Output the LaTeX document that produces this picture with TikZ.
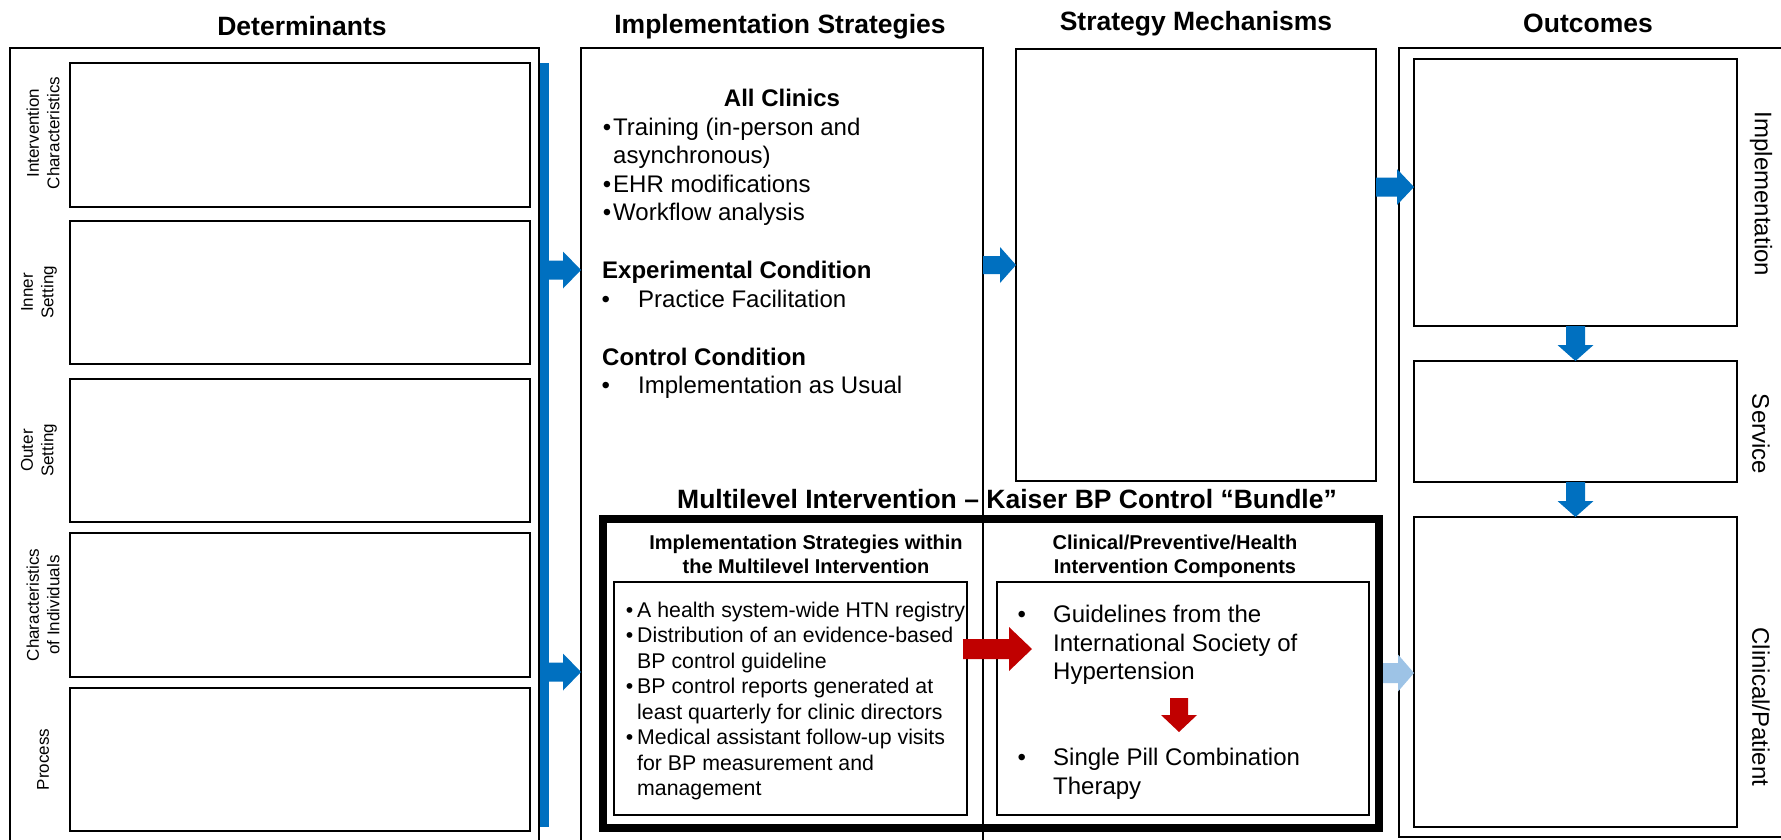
\documentclass[tikz,border=0pt]{standalone}
\usepackage{fontspec}
\setmainfont{Liberation Sans}
\usetikzlibrary{calc}
\definecolor{dblue}{HTML}{0070C0}
\definecolor{lblue}{HTML}{9DC3E6}
\definecolor{dred}{HTML}{C00000}

% block arrow pointing right: colour, tail, tip, half shaft, half head, head length
\newcommand\harrow[6]{%
  \fill[#1] ($#2+(0,-#4)$) -- ($#3+(-#6,-#4)$) -- ($#3+(-#6,-#5)$) -- #3
    -- ($#3+(-#6,#5)$) -- ($#3+(-#6,#4)$) -- ($#2+(0,#4)$) -- cycle;}
% block arrow pointing down: colour, tail, tip, half shaft, half head, head length
\newcommand\varrow[6]{%
  \fill[#1] ($#2+(-#4,0)$) -- ($#3+(-#4,-#6)$) -- ($#3+(-#5,-#6)$) -- #3
    -- ($#3+(#5,-#6)$) -- ($#3+(#4,-#6)$) -- ($#2+(#4,0)$) -- cycle;}

\begin{document}
\begin{tikzpicture}[x=1pt,y=-1pt,
  frame/.style={draw, line width=#1, inner sep=0pt, outer sep=0pt},
  frame/.default=2pt,
  wh/.style 2 args={minimum width=#1pt, minimum height=#2pt},
  title/.style={anchor=base, inner sep=0pt, font=\bfseries\fontsize{26.5}{30}\selectfont},
  sidelab/.style={inner sep=0pt, align=center, font=\fontsize{17}{20.5}\selectfont},
  outlab/.style={inner sep=0pt, rotate=-90, font=\fontsize{24}{28}\selectfont},
  body/.style={anchor=base west, inner sep=0pt, font=\fontsize{24}{28}\selectfont},
  bodyb/.style={body, font=\bfseries\fontsize{24}{28}\selectfont},
  small/.style={anchor=base west, inner sep=0pt, font=\fontsize{21.3}{25}\selectfont},
  hdr/.style={anchor=base, inner sep=0pt, font=\bfseries\fontsize{20}{24}\selectfont}]

\useasboundingbox (0,0) rectangle (1781,839);
\fill[white] (0,0) rectangle (1781,839);

% ---------- column titles ----------
\node[title] (tdet) at (302,35) {Determinants};
\node[title] (timp) at (780,33) {Implementation Strategies};
\node[title] (tmech) at (1196,30) {Strategy Mechanisms};
\node[title] (tout) at (1588,32) {Outcomes};

% ---------- determinants ----------
\node[frame, wh={529}{800}] (det) at (274.5,448) {};
\node[frame=2.7pt, wh={460}{144}] (d1) at (300,135) {};
\node[frame=2.7pt, wh={460}{143}] (d2) at (300,292.5) {};
\node[frame=2.7pt, wh={460}{143}] (d3) at (300,450.5) {};
\node[frame=2.7pt, wh={460}{144}] (d4) at (300,605) {};
\node[frame=2.7pt, wh={460}{143}] (d5) at (300,759.5) {};
\node[sidelab, rotate=90] (l1) at (43,133) {Intervention\\Characteristics};
\node[sidelab, rotate=90] (l2) at (39,292.5) {Inner\\Setting};
\node[sidelab, rotate=90] (l3) at (39,450.5) {Outer\\Setting};
\node[sidelab, rotate=90] (l4) at (43,605) {Characteristics\\of Individuals};
\node[sidelab, rotate=90] (l5) at (43,759.5) {Process};
\node[fill=dblue, inner sep=0pt, outer sep=0pt, wh={9}{764}] (bar) at (544.5,445) {};

% ---------- implementation strategies ----------
\node[frame, wh={402}{800}] (impl) at (782,448) {};
\node[bodyb, anchor=base] (allc) at (782,106) {All Clinics};
\node[body] (s1) at (613,135) {\llap{•\hspace{2pt}}Training (in-person and};
\node[body] (s2) at (613,163) {asynchronous)};
\node[body] (s3) at (613,192) {\llap{•\hspace{2pt}}EHR modifications};
\node[body] (s4) at (613,220) {\llap{•\hspace{2pt}}Workflow analysis};
\node[bodyb] (exph) at (602,278) {Experimental Condition};
\node[body] (exp1) at (638,307) {\llap{•\hspace{28.3pt}}Practice Facilitation};
\node[bodyb] (ctlh) at (602,365) {Control Condition};
\node[body] (ctl1) at (638,393) {\llap{•\hspace{28.3pt}}Implementation as Usual};

% ---------- strategy mechanisms ----------
\node[frame=2.3pt, wh={360}{432}] (mech) at (1196,265) {};

% ---------- outcomes ----------
\node[frame=1.8pt, wh={396}{789}] (outc) at (1597,442.5) {};
\node[frame=2.4pt, wh={323}{267}] (o1) at (1575.5,192.5) {};
\node[frame=2.4pt, wh={323}{121}] (o2) at (1575.5,421.5) {};
\node[frame=2.4pt, wh={323}{310}] (o3) at (1575.5,672) {};
\node[outlab] (ol1) at (1761,194) {Implementation};
\node[outlab] (ol2) at (1761,434) {Service};
\node[outlab] (ol3) at (1761,707) {Clinical/Patient};

% ---------- multilevel intervention bundle ----------
\node[title] (tbund) at (1007,508) {Multilevel Intervention – Kaiser BP Control “Bundle”};
\node[frame=8pt, wh={776}{309}] (bundle) at (991,673.5) {};
\node[hdr] (bh1) at (806,549) {Implementation Strategies within};
\node[hdr] (bh2) at (806,573) {the Multilevel Intervention};
\node[hdr] (ch1) at (1175,549) {Clinical/Preventive/Health};
\node[hdr] (ch2) at (1175,573) {Intervention Components};
\node[frame=2.4pt, wh={353}{233}] (ib1) at (790.5,698.5) {};
\node[frame=2.4pt, wh={372}{233}] (ib2) at (1183,698.5) {};

\node[small] (m1) at (637,617) {\llap{•\hspace{4pt}}A health system-wide HTN registry};
\node[small] (m2) at (637,642) {\llap{•\hspace{4pt}}Distribution of an evidence-based};
\node[small] (m3) at (637,668) {BP control guideline};
\node[small] (m4) at (637,693) {\llap{•\hspace{4pt}}BP control reports generated at};
\node[small] (m5) at (637,719) {least quarterly for clinic directors};
\node[small] (m6) at (637,744) {\llap{•\hspace{4pt}}Medical assistant follow-up visits};
\node[small] (m7) at (637,770) {for BP measurement and};
\node[small] (m8) at (637,795) {management};

\node[body] (g1) at (1053,622) {\llap{•\hspace{27.3pt}}Guidelines from the};
\node[body] (g2) at (1053,651) {International Society of};
\node[body] (g3) at (1053,679) {Hypertension};
\node[body] (p1) at (1053,765) {\llap{•\hspace{27.3pt}}Single Pill Combination};
\node[body] (p2) at (1053,794) {Therapy};

% ---------- connectors ----------
\harrow{dblue}{(bar.east |- 0,270)}{(impl.west |- 0,270)}{9.5}{18.5}{18}
\harrow{dblue}{(bar.east |- 0,672)}{(impl.west |- 0,672)}{9.5}{18.5}{18}
\harrow{dblue}{(impl.east |- 0,265)}{(mech.west |- 0,265)}{9}{18}{16}
\harrow{dblue}{(mech.east |- 0,187)}{(o1.west |- 0,187)}{9.5}{18}{17}
\varrow{dblue}{(o1.south)}{(o2.north)}{9.5}{18}{16}
\varrow{dblue}{(o2.south)}{(o3.north)}{9.5}{18}{16}

\coordinate (lbA) at ($(bundle.east |- 0,673)+(4,0)$);
\harrow{lblue}{(lbA)}{(o3.west |- 0,673)}{10}{18.5}{16}

\coordinate (rA) at ($(ib1.east |- 0,649)+(-4,0)$);
\coordinate (rB) at ($(ib2.west |- 0,649)+(35,0)$);
\harrow{dred}{(rA)}{(rB)}{10}{22}{23}

\coordinate (gA) at (1179,698);
\coordinate (gB) at (1179,732);
\varrow{dred}{(gA)}{(gB)}{9}{18}{17}

\end{tikzpicture}
\end{document}
